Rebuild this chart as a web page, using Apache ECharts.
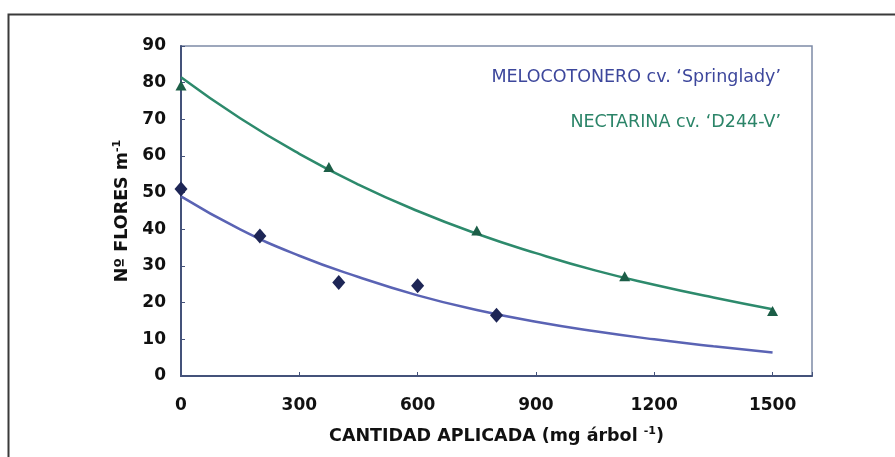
<!DOCTYPE html>
<html>
<head>
<meta charset="utf-8">
<script src="https://cdn.jsdelivr.net/npm/echarts@6/dist/echarts.min.js"></script>
<style>
  html, body { margin: 0; padding: 0; background: #ffffff; }
  #chart { width: 895px; height: 457px; }
</style>
</head>
<body>
<div id="chart"></div>
<script>
// Observed flower counts per metre of branch
const melocotoneroX = [0, 200, 400, 600, 800];
const melocotoneroY = [51, 38.2, 25.5, 24.6, 16.6];
const nectarinaX = [0, 375, 750, 1125, 1500];
const nectarinaY = [79.2, 57, 39.7, 27.2, 17.7];

// Fitted trend curves, sampled along the dose axis
const trendX = [0, 150, 300, 450, 600, 750, 900, 1050, 1200, 1350, 1500];
const melocotoneroTrend = [49, 40, 32.8, 27, 22, 18, 14.8, 12.2, 10, 8.1, 6.4];
const nectarinaTrend = [81.5, 70.3, 60.6, 52.2, 45, 38.8, 33.5, 28.8, 24.9, 21.4, 18.2];

// Axis ticks
const xTicks = [0, 300, 600, 900, 1200, 1500];
const yTicks = [0, 10, 20, 30, 40, 50, 60, 70, 80, 90];

const seriesNames = ["MELOCOTONERO cv. \u2018Springlady\u2019", "NECTARINA cv. \u2018D244-V\u2019"];

const pairs = (xs, ys) => xs.map((x, i) => [x, ys[i]]);

const chart = echarts.init(document.getElementById('chart'), null, { renderer: 'canvas' });

const labelFont = '"DejaVu Sans", Verdana, sans-serif';

chart.setOption({
  backgroundColor: '#ffffff',
  animation: false,
  graphic: [
    {
      type: 'rect',
      left: 6, top: 12,
      shape: { width: 920, height: 470 },
      style: { fill: 'none', stroke: '#3a3a3a', lineWidth: 2 },
      silent: true
    },
    {
      type: 'text',
      right: 114, top: 68,
      style: { text: seriesNames[0], fill: '#3d479c', font: '17.5px ' + labelFont, textAlign: 'right' }
    },
    {
      type: 'text',
      right: 114, top: 113,
      style: { text: seriesNames[1], fill: '#2b8468', font: '17.5px ' + labelFont, textAlign: 'right' }
    }
  ],
  grid: {
    left: 181, top: 46, right: 83, bottom: 81,
    show: true, borderColor: '#7d8ba6', borderWidth: 1.5, backgroundColor: '#ffffff'
  },
  xAxis: {
    type: 'value',
    min: 0, max: 1600, interval: 300,
    name: 'CANTIDAD APLICADA (mg árbol {sup|-1})',
    nameLocation: 'middle',
    nameGap: 50,
    nameTextStyle: {
      color: '#111', fontFamily: labelFont, fontWeight: 'bold', fontSize: 17.5,
      rich: { sup: { fontSize: 11, fontWeight: 'bold', color: '#111', fontFamily: labelFont, padding: [0, 0, 10, 0] } }
    },
    axisLine: { show: true, onZero: false, lineStyle: { color: '#44527a', width: 2 } },
    axisTick: { show: true, inside: true, length: 4, lineStyle: { color: '#44527a' } },
    splitLine: { show: false },
    axisLabel: {
      margin: 21, color: '#111', fontFamily: labelFont, fontWeight: 'bold', fontSize: 17,
      formatter: v => (xTicks.indexOf(v) >= 0 ? String(v) : '')
    }
  },
  yAxis: {
    type: 'value',
    min: 0, max: 90, interval: 10,
    name: 'Nº FLORES m{sup|-1}',
    nameLocation: 'middle',
    nameRotate: 90,
    nameGap: 44,
    nameTextStyle: {
      color: '#111', fontFamily: labelFont, fontWeight: 'bold', fontSize: 17.5,
      rich: { sup: { fontSize: 11, fontWeight: 'bold', color: '#111', fontFamily: labelFont, padding: [0, 0, 11, 0] } }
    },
    axisLine: { show: true, lineStyle: { color: '#44527a', width: 2 } },
    axisTick: { show: true, inside: true, length: 4, lineStyle: { color: '#44527a' } },
    splitLine: { show: false },
    axisLabel: {
      margin: 15, color: '#111', fontFamily: labelFont, fontWeight: 'bold', fontSize: 17,
      formatter: v => (yTicks.indexOf(v) >= 0 ? String(v) : '')
    }
  },
  series: [
    {
      name: seriesNames[0] + ' (ajuste)',
      type: 'line',
      data: pairs(trendX, melocotoneroTrend),
      smooth: true,
      showSymbol: false,
      lineStyle: { color: '#5a63b4', width: 2.5 },
      z: 2
    },
    {
      name: seriesNames[1] + ' (ajuste)',
      type: 'line',
      data: pairs(trendX, nectarinaTrend),
      smooth: true,
      showSymbol: false,
      lineStyle: { color: '#2d8a6c', width: 2.5 },
      z: 2
    },
    {
      name: seriesNames[0],
      type: 'scatter',
      data: pairs(melocotoneroX, melocotoneroY),
      symbol: 'diamond',
      symbolSize: [13, 15],
      itemStyle: { color: '#1e2656', opacity: 1 },
      z: 3
    },
    {
      name: seriesNames[1],
      type: 'scatter',
      data: pairs(nectarinaX, nectarinaY),
      symbol: 'triangle',
      symbolSize: [11, 10],
      itemStyle: { color: '#1c5e47', opacity: 1 },
      z: 3
    }
  ]
});
</script>
</body>
</html>
